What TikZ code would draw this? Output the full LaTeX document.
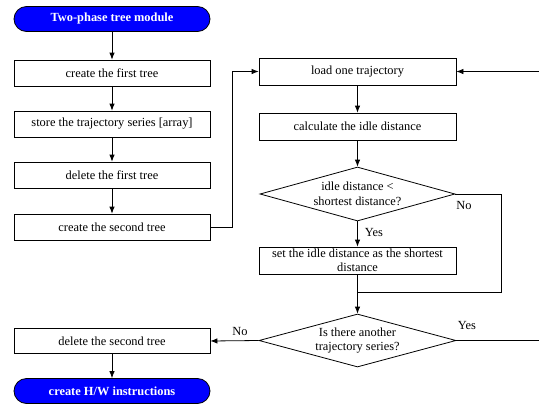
\documentclass[tikz,border=0pt]{standalone}
\usepackage{fontspec}
\setmainfont{Liberation Serif}
\usetikzlibrary{shapes.geometric,arrows.meta,calc}

\begin{document}
\begin{tikzpicture}[x=1pt,y=-1pt,
  font=\fontsize{12.4}{14.5}\selectfont,
  line width=0.8pt,
  arr/.style={-{Latex[length=7pt,width=5.5pt]}},
  procbox/.style={draw, rectangle, minimum width=196pt, minimum height=26pt, inner sep=1pt, align=center},
  termbox/.style={draw, rectangle, rounded corners=12.5pt, fill={rgb,255:red,0;green,0;blue,255},
    text=white, font=\fontsize{12.4}{14.5}\selectfont\bfseries, minimum width=196pt, minimum height=25pt, inner sep=1pt},
  decbox/.style={draw, diamond, aspect=3.6, inner sep=0pt, minimum width=196pt, minimum height=54pt, align=center},
  lbl/.style={inner sep=0pt}
]
\useasboundingbox (0,0) rectangle (539,405);
\clip (0,0) rectangle (539,405);

% left column
\node[termbox]  (start) at (112,19)  {Two-phase tree module};
\node[procbox]  (b1)    at (112,73)  {create the first tree};
\node[procbox]  (b2)    at (112,124) {store the trajectory series [array]};
\node[procbox]  (b3)    at (112,175) {delete the first tree};
\node[procbox]  (b4)    at (112,227) {create the second tree};
\node[procbox, minimum height=25pt] (del) at (112,341) {delete the second tree};
\node[termbox]  (stop)  at (112,391) {create H/W instructions};

% right column
\node[procbox, minimum width=197pt, minimum height=27pt] (load) at (357.5,71.5)  {load one trajectory};
\node[procbox, minimum width=197pt, minimum height=27pt] (calc) at (357.5,126.5) {calculate the idle distance};
\node[decbox, minimum width=195pt] (d1) at (357.5,194) {idle distance <\\shortest distance?};
\node[procbox, minimum width=197pt, minimum height=27pt, font=\fontsize{12.4}{14}\selectfont] (set) at (357.5,260.5)
  {set the idle distance as the shortest\\distance};
\node[decbox, minimum width=197pt, minimum height=53pt] (d2) at (357.5,340.5) {Is there another\\trajectory series?};

% bend points
\coordinate (j1) at (232,227);
\coordinate (j2) at (501,292);
\coordinate (j3) at (560,340.5);

% connectors
\draw[arr] (start) -- (b1);
\draw[arr] (b1) -- (b2);
\draw[arr] (b2) -- (b3);
\draw[arr] (b3) -- (b4);
\draw[arr] (b4.east) -- (j1) |- (load.west);
\draw[arr] (load) -- (calc);
\draw[arr] (calc) -- (d1);
\draw[arr] (d1.south) -- (set.north);
\draw (d1.east) -| (j2) -- (set.south |- j2);
\draw[arr] (set.south) -- (d2.north);
\draw[arr] (d2.west) -- (del.east);
\draw[arr] (d2.east) -- (j3) |- (load.east);
\draw[arr] (del) -- (stop);

% branch labels
\node[lbl] (no1)  at (464,205) {No};
\node[lbl] (yes1) at (374,232) {Yes};
\node[lbl] (no2)  at (240,331) {No};
\node[lbl] (yes2) at (467,325) {Yes};
\end{tikzpicture}
\end{document}
